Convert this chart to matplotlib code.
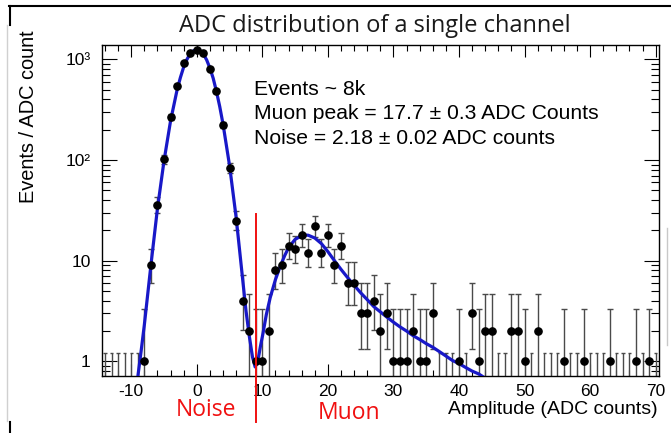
import numpy as np
import matplotlib
matplotlib.use('Agg')
import matplotlib.pyplot as plt
from matplotlib.ticker import FixedLocator, MultipleLocator, LogLocator, NullFormatter
from matplotlib.lines import Line2D

# ADC histogram, one bin per ADC count (bin centres -14 .. 70)
adc_bins = list(range(-14, 71))
counts = [0, 0, 0, 0, 0, 0,                                   # -14 .. -9
          1, 9, 36, 102, 269, 543, 912, 1164,                 # -8 .. -1
          1233, 1164, 807, 484, 223, 83, 25, 4, 2, 1, 1,      # 0 .. 10
          2, 8, 9, 14, 13, 18, 12, 22, 12, 18,                # 11 .. 20
          9, 14, 6, 6, 3, 3, 4, 2, 3, 1,                      # 21 .. 30
          1, 1, 2, 1, 1, 3, 0, 0, 0, 1,                       # 31 .. 40
          0, 3, 1, 2, 2, 0, 0, 2, 2, 1,                       # 41 .. 50
          0, 2, 0, 0, 0, 1, 0, 0, 1, 0,                       # 51 .. 60
          0, 0, 1, 0, 0, 0, 1, 0, 1, 0]                       # 61 .. 70

# fitted curve (noise gaussian + muon peak)
fit_x = [-9.0, -8.5, -8.0, -7.0, -6.0, -5.0, -4.0, -3.5, -3.0, -2.5, -2.0, -1.5,
         -1.0, -0.5, 0.0, 0.5, 1.0, 1.5, 2.0, 2.5, 3.0, 3.5, 4.0, 5.0, 6.0, 7.0,
         7.5, 8.0, 8.5, 8.9, 9.3, 9.7, 10.1, 10.6, 11.2, 12.0, 12.7, 13.4, 14.0,
         15.0, 16.0, 16.5, 17.0, 18.0, 19.0, 20.0, 21.0, 22.0, 23.0, 24.0, 25.0,
         26.0, 27.0, 28.0, 29.0, 30.0, 31.0, 32.0, 33.0, 34.0, 35.0, 36.0, 37.0,
         38.0, 39.0, 40.0, 41.0, 42.0, 43.0, 43.7]
fit_y = [0.70, 1.25, 2.3, 9, 33, 98, 245, 350, 500, 660, 840, 1000,
         1140, 1220, 1250, 1220, 1130, 990, 820, 650, 480, 340, 228, 88, 27, 6.5,
         3.2, 1.8, 1.1, 0.88, 1.0, 1.4, 1.9, 2.9, 4.3, 6.5, 8.7, 11.2, 13.5,
         16.3, 17.7, 18.0, 17.9, 16.8, 14.8, 12.3, 10.0, 8.2, 6.8, 5.7, 4.8,
         4.1, 3.5, 3.1, 2.75, 2.45, 2.2, 2.0, 1.8, 1.65, 1.5, 1.38, 1.25,
         1.13, 1.02, 0.95, 0.87, 0.8, 0.75, 0.70]

x_ticks = [-10, 0, 10, 20, 30, 40, 50, 60, 70]
y_ticks = [1, 10, 100, 1000]
y_tick_labels = ['1', '10', '10\u00b2', '10\u00b3']

cut_adc = 9.0
empty_bar_top = 1.2

plt.rcParams['font.family'] = ['Liberation Sans', 'DejaVu Sans']
plt.rcParams['axes.unicode_minus'] = False

fig = plt.figure(figsize=(6.71, 4.33), dpi=100)
ax = fig.add_axes([0.1516, 0.1323, 0.8305, 0.7645])

x = np.array(adc_bins, dtype=float)
n = np.array(counts, dtype=float)
filled = n > 0
# approximate Poisson (Gehrels) intervals
lo = n[filled] - np.sqrt(n[filled] - 0.25)
hi = n[filled] + 1 + np.sqrt(n[filled] + 0.75)
yerr = [n[filled] - lo, hi - n[filled]]

ax.errorbar(x[filled], n[filled], yerr=yerr, fmt='none', ecolor='#4a4a4a',
            elinewidth=1.0, capsize=2.4, capthick=1.0, zorder=2)
# empty bins
empty_x = x[~filled]
ax.vlines(empty_x, 0.5, empty_bar_top, color='#4a4a4a', lw=1.0, zorder=2)
ax.hlines(np.full(len(empty_x), empty_bar_top), empty_x - 0.25, empty_x + 0.25,
          color='#4a4a4a', lw=1.0, zorder=2)

ax.plot(fit_x, fit_y, color='#1818c8', lw=2.3, zorder=3)
ax.plot(x[filled], n[filled], 'o', color='black', ms=5.2, zorder=4)

ax.plot([cut_adc, cut_adc], [0.252, 28.9], color='#f01010', lw=1.4,
        clip_on=False, zorder=5)

ax.set_yscale('log')
ax.set_xlim(-14.5, 70.5)
ax.set_ylim(0.72, 1400)

ax.xaxis.set_major_locator(FixedLocator(x_ticks))
ax.xaxis.set_minor_locator(MultipleLocator(2))
ax.yaxis.set_major_locator(FixedLocator(y_ticks))
ax.set_yticklabels(y_tick_labels)
ax.yaxis.set_minor_locator(LogLocator(base=10, subs=np.arange(2, 10)))
ax.yaxis.set_minor_formatter(NullFormatter())

ax.tick_params(which='both', direction='in', top=True, right=True, width=0.8,
               labelsize=12.5, colors='black')
ax.tick_params(axis='x', which='major', length=8.5, pad=6)
ax.tick_params(axis='x', which='minor', length=4.5)
ax.tick_params(axis='y', which='major', length=11, pad=8)
ax.tick_params(axis='y', which='minor', length=5.5)
for s in ax.spines.values():
    s.set_linewidth(1.0)

W, H = 671.0, 433.0
slide_font = ['Open Sans', 'DejaVu Sans']
fig.text(375 / W, 1 - 26 / H, 'ADC distribution of a single channel',
         family=slide_font, fontsize=17, color='#1a1a1a',
         ha='center', va='center')
fig.text(28 / W, 1 - 30 / H, 'Events / ADC count', rotation=90,
         fontsize=14.4, ha='center', va='top')
fig.text(658 / W, 1 - 410 / H, 'Amplitude (ADC counts)', fontsize=14,
         ha='right', va='center')

stats = ['Events ~ 8k',
         'Muon peak = 17.7 \u00b1 0.3 ADC Counts',
         'Noise = 2.18 \u00b1 0.02 ADC counts']
for i, line in enumerate(stats):
    fig.text(254 / W, 1 - (89.3 + 24.5 * i) / H, line, fontsize=15.2,
             ha='left', va='center')

fig.text(205.5 / W, 1 - 415.7 / H, 'Noise', family=slide_font,
         fontsize=16.5, color='#f01010', ha='center', va='baseline')
fig.text(348.7 / W, 1 - 419 / H, 'Muon', family=slide_font,
         fontsize=16.5, color='#f01010', ha='center', va='baseline')

# slide frame bits around the screenshot
fig.add_artist(Line2D([9 / W, 1], [1 - 5.5 / H] * 2, color='black', lw=1.5))
fig.add_artist(Line2D([9.5 / W] * 2, [1 - 5.5 / H, 1 - 25 / H], color='black', lw=1.5))
fig.add_artist(Line2D([7 / W] * 2, [1 - 25 / H, 1 - 421 / H], color='#d0d0d0', lw=1.0))
fig.add_artist(Line2D([9.5 / W] * 2, [1 - 422 / H, 0], color='black', lw=1.5))
fig.add_artist(Line2D([667 / W] * 2, [1 - 228 / H, 1 - 345 / H], color='#c8c8c8', lw=1.0))

fig.savefig('out.png', dpi=100)
